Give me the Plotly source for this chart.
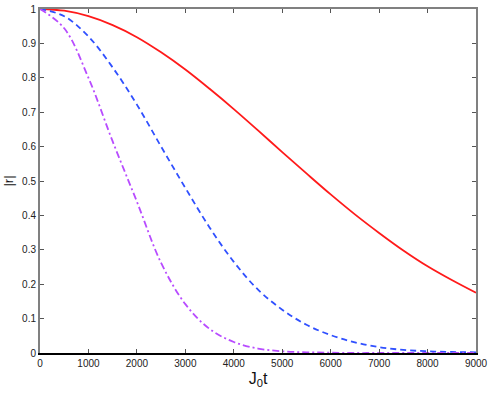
import plotly.graph_objects as go

# J0 t sampled every 500
t = [0, 500, 1000, 1500, 2000, 2500, 3000, 3500, 4000, 4500,
     5000, 5500, 6000, 6500, 7000, 7500, 8000, 8500, 9000]

r_red = [1.000, 0.995, 0.979, 0.953, 0.918, 0.874, 0.824, 0.768, 0.709, 0.647,
         0.584, 0.522, 0.461, 0.403, 0.349, 0.298, 0.252, 0.212, 0.175]
r_blue = [1.000, 0.979, 0.920, 0.830, 0.722, 0.600, 0.480, 0.365, 0.265, 0.184,
          0.126, 0.082, 0.052, 0.031, 0.017, 0.009, 0.005, 0.003, 0.002]
r_purple = [1.000, 0.944, 0.800, 0.615, 0.440, 0.262, 0.142, 0.070, 0.032, 0.013,
            0.005, 0.002, 0.001, 0.000, 0.000, 0.000, 0.000, 0.000, 0.000]

x_ticks = [0, 1000, 2000, 3000, 4000, 5000, 6000, 7000, 8000, 9000]
y_ticks = [0, 0.1, 0.2, 0.3, 0.4, 0.5, 0.6, 0.7, 0.8, 0.9, 1]

fig = go.Figure()
fig.add_scatter(x=t, y=r_red, mode='lines', line=dict(color='#ff1a1a', width=1.8, shape='spline'))
fig.add_scatter(x=t, y=r_blue, mode='lines',
                line=dict(color='#3050ff', width=1.8, dash='6px,4px', shape='spline'))
fig.add_scatter(x=t, y=r_purple, mode='lines',
                line=dict(color='#b84cff', width=1.8, dash='7px,3px,2px,3px', shape='spline'))

font = dict(family='Liberation Sans, Arial, sans-serif', size=10, color='#222')

fig.update_layout(
    width=491, height=393,
    margin=dict(l=40, r=15, t=9, b=40),
    paper_bgcolor='white', plot_bgcolor='white',
    showlegend=False,
    font=font,
    xaxis=dict(range=[0, 9000], tickvals=x_ticks, ticks='inside', ticklen=4,
               tickcolor='#555', showgrid=False, zeroline=False, automargin=False,
               showline=True, linecolor='black', linewidth=1.5,
               title=dict(text='J<sub>0</sub>t', font=dict(size=16, color='#111'), standoff=5)),
    yaxis=dict(range=[0, 1], tickvals=y_ticks, ticks='inside', ticklen=4,
               tickcolor='#555', showgrid=False, zeroline=False, automargin=False,
               showline=True, linecolor='#808080', linewidth=2,
               title=dict(text='|r|', font=dict(size=13, color='#111'), standoff=6)),
    xaxis2=dict(overlaying='x', matches='x', side='top', range=[0, 9000],
                tickvals=x_ticks, ticks='inside', ticklen=4, tickcolor='#555',
                showticklabels=False, showgrid=False, zeroline=False, automargin=False,
                showline=True, linecolor='#808080', linewidth=1.5),
    yaxis2=dict(overlaying='y', matches='y', side='right', range=[0, 1],
                tickvals=y_ticks, ticks='inside', ticklen=4, tickcolor='#555',
                showticklabels=False, showgrid=False, zeroline=False, automargin=False,
                showline=True, linecolor='#808080', linewidth=1.5),
)
# invisible trace to activate the mirror axes
fig.add_scatter(x=[0], y=[0], xaxis='x2', yaxis='y2', mode='markers',
                marker=dict(opacity=0), hoverinfo='skip')

fig.write_html("out.html", config={'displayModeBar': False},
               post_script="document.body.style.margin='0';")
